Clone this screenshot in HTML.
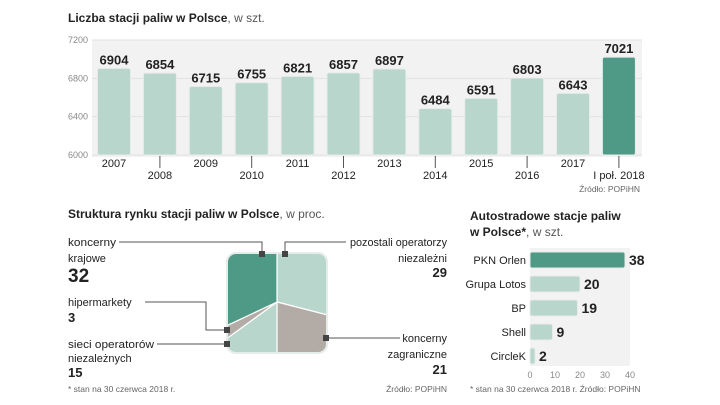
<!DOCTYPE html>
<html><head><meta charset="utf-8"><style>
body{margin:0;background:#fff;}
svg{display:block;font-family:"Liberation Sans",sans-serif;}
.t{font-weight:bold;font-size:12px;fill:#222;}
.n{font-family:"Liberation Sans Narrow","Liberation Sans",sans-serif;font-weight:bold;fill:#222;}
.lab{font-size:11px;fill:#222;}
.ax{font-size:9px;fill:#888;}
.src{font-size:8.5px;fill:#666;}
</style></head><body>
<svg id="s" width="720" height="405" viewBox="0 0 720 405">
<text x="68" y="22" class="t">Liczba stacji paliw w Polsce<tspan font-weight="normal" fill="#555">, w szt.</tspan></text>
<rect x="92" y="40" width="550" height="117" fill="#f2f2f2"/>
<g id="topchart"></g>
<text x="640" y="192" class="src" text-anchor="end">Źródło: POPiHN</text>

<text x="68" y="218" class="t">Struktura rynku stacji paliw w Polsce<tspan font-weight="normal" fill="#555">, w proc.</tspan></text>
<g id="pie"></g>
<g stroke="#555" stroke-width="1" fill="none">
<polyline points="119,242 262,242 262,254"/>
<polyline points="145,302 206,302 206,330 227,330"/>
<polyline points="157,344 227,344"/>
<polyline points="285,254 285,242 346,242"/>
<polyline points="326,338 400,338"/>
</g>
<g fill="#444"><rect x="259" y="251" width="6" height="6"/><rect x="282" y="251" width="6" height="6"/><rect x="224" y="327" width="6" height="6"/><rect x="224" y="341" width="6" height="6"/><rect x="323" y="335" width="6" height="6"/></g>
<g class="lab">
<text x="68" y="246" textLength="48" lengthAdjust="spacingAndGlyphs">koncerny</text><text x="68" y="262">krajowe</text>
<text x="68" y="282" class="n" font-size="19">32</text>
<text x="68" y="306">hipermarkety</text>
<text x="68" y="322" class="n" font-size="13">3</text>
<text x="68" y="348" textLength="86" lengthAdjust="spacingAndGlyphs">sieci operatorów</text><text x="68" y="362">niezależnych</text>
<text x="68" y="377" class="n" font-size="13">15</text>
<text x="447" y="246" text-anchor="end" textLength="97" lengthAdjust="spacingAndGlyphs">pozostali operatorzy</text><text x="447" y="262" text-anchor="end">niezależni</text>
<text x="447" y="277" text-anchor="end" class="n" font-size="13">29</text>
<text x="447" y="342" text-anchor="end">koncerny</text><text x="447" y="358" text-anchor="end">zagraniczne</text>
<text x="447" y="374" text-anchor="end" class="n" font-size="13">21</text>
</g>
<text x="68" y="392" class="src">* stan na 30 czerwca 2018 r.</text>
<text x="447" y="392" class="src" text-anchor="end">Źródło: POPiHN</text>

<text x="470" y="220" class="t">Autostradowe stacje paliw</text>
<text x="470" y="236" class="t">w Polsce*<tspan font-weight="normal" fill="#555">, w szt.</tspan></text>
<rect x="530" y="248" width="100" height="118" fill="#f2f2f2"/>
<g id="hb"></g>
<text x="470" y="392" class="src">* stan na 30 czerwca 2018 r.  Źródło: POPiHN</text>
</svg>
<script>
const years=["2007","2008","2009","2010","2011","2012","2013","2014","2015","2016","2017","I poł. 2018"];
const counts=[6904,6854,6715,6755,6821,6857,6897,6484,6591,6803,6643,7021];
const yTicks=[6000,6400,6800,7200];
const pieLabels=["pozostali","zagraniczne","sieci","hipermarkety","krajowe"];
const pieValues=[29,21,15,3,32];
const pieColors=["#b9d6cc","#b3aca6","#b9d6cc","#b3aca6","#4f9a87"];
const companies=["PKN Orlen","Grupa Lotos","BP","Shell","CircleK"];
const highway=[38,20,19,9,2];
const hTicks=[0,10,20,30,40];

const NS="http://www.w3.org/2000/svg";
function mk(tag,attrs,parent,text){const e=document.createElementNS(NS,tag);for(const k in attrs)e.setAttribute(k,attrs[k]);if(text!==undefined)e.textContent=text;parent.appendChild(e);return e;}

const topG=document.getElementById('topchart');
const yS=v=>155-(v-6000)/1200*115;
const xS=i=>114+i*45.9;
yTicks.forEach(t=>{
  const l=mk('line',{x1:92,x2:642,y1:yS(t),y2:yS(t),stroke:'#e2e2e2'},topG);
  
  
  const tx=mk('text',{x:88,y:yS(t)+3,'text-anchor':'end',class:'ax'},topG,t);
  
  
});
counts.forEach((v,i)=>{
  const last=i===counts.length-1;
  const r=mk('rect',{x:xS(i)-16.5,y:yS(v),width:33,height:155-yS(v),rx:2,fill:last?'#4f9a87':'#b9d6cc',stroke:'#e6ece9','stroke-width':1},topG);
  
  
  const vt=mk('text',{x:xS(i),y:yS(v)-4,'text-anchor':'middle',class:'n','font-size':13},topG,v);
  
  
  const odd=i%2===1;
  const ly=odd?179:167;
  if(odd){mk('line',{x1:xS(i),x2:xS(i),y1:156,y2:168,stroke:'#555'},topG);}
  const lt=mk('text',{x:xS(i),y:ly,'text-anchor':'middle',class:'lab','font-size':12},topG,years[i]);
  
  
});

const pie=document.getElementById('pie');
const defs=mk('defs',{},pie);
const cp=mk('clipPath',{id:'sq'},defs);
mk('rect',{x:227,y:253,width:100,height:100,rx:9},cp);
const g=mk('g',{'clip-path':'url(#sq)'},pie);
const cx=277,cy=302,R=90;
const tot=pieValues.reduce((a,b)=>a+b,0);
let acc=0;
pieValues.forEach((v,i)=>{
  const a0=acc/tot*2*Math.PI;acc+=v;const a1=acc/tot*2*Math.PI;
  const p=(a)=>[cx+R*Math.sin(a),cy-R*Math.cos(a)];
  const [x0,y0]=p(a0),[x1,y1]=p(a1);
  const s=mk('path',{d:`M${cx},${cy}L${x0},${y0}A${R},${R} 0 ${a1-a0>Math.PI?1:0} 1 ${x1},${y1}Z`,fill:pieColors[i],stroke:'#fff','stroke-width':1.2},g);
  
  
});
mk('rect',{x:227,y:253,width:100,height:100,rx:9,fill:'none',stroke:'#e6ece9','stroke-width':2},pie);

const hb=document.getElementById('hb');
const hx=v=>530+v*2.5;
const hy=i=>260+i*24;
hTicks.forEach(t=>{
  const tx=mk('text',{x:hx(t),y:378,'text-anchor':'middle',class:'ax'},hb,t);
  
  
});
highway.forEach((v,i)=>{
  const r=mk('rect',{x:530,y:hy(i)-8,width:hx(v)-530,height:16,rx:2,fill:i===0?'#4f9a87':'#b9d6cc',stroke:'#e6ece9'},hb);
  
  
  const l=mk('text',{x:526,y:hy(i)+4,'text-anchor':'end',class:'lab'},hb,companies[i]);
  
  
  const vt=mk('text',{x:hx(v)+4,y:hy(i)+5,class:'n','font-size':14},hb,v);
  
  
});
</script>
</body></html>
